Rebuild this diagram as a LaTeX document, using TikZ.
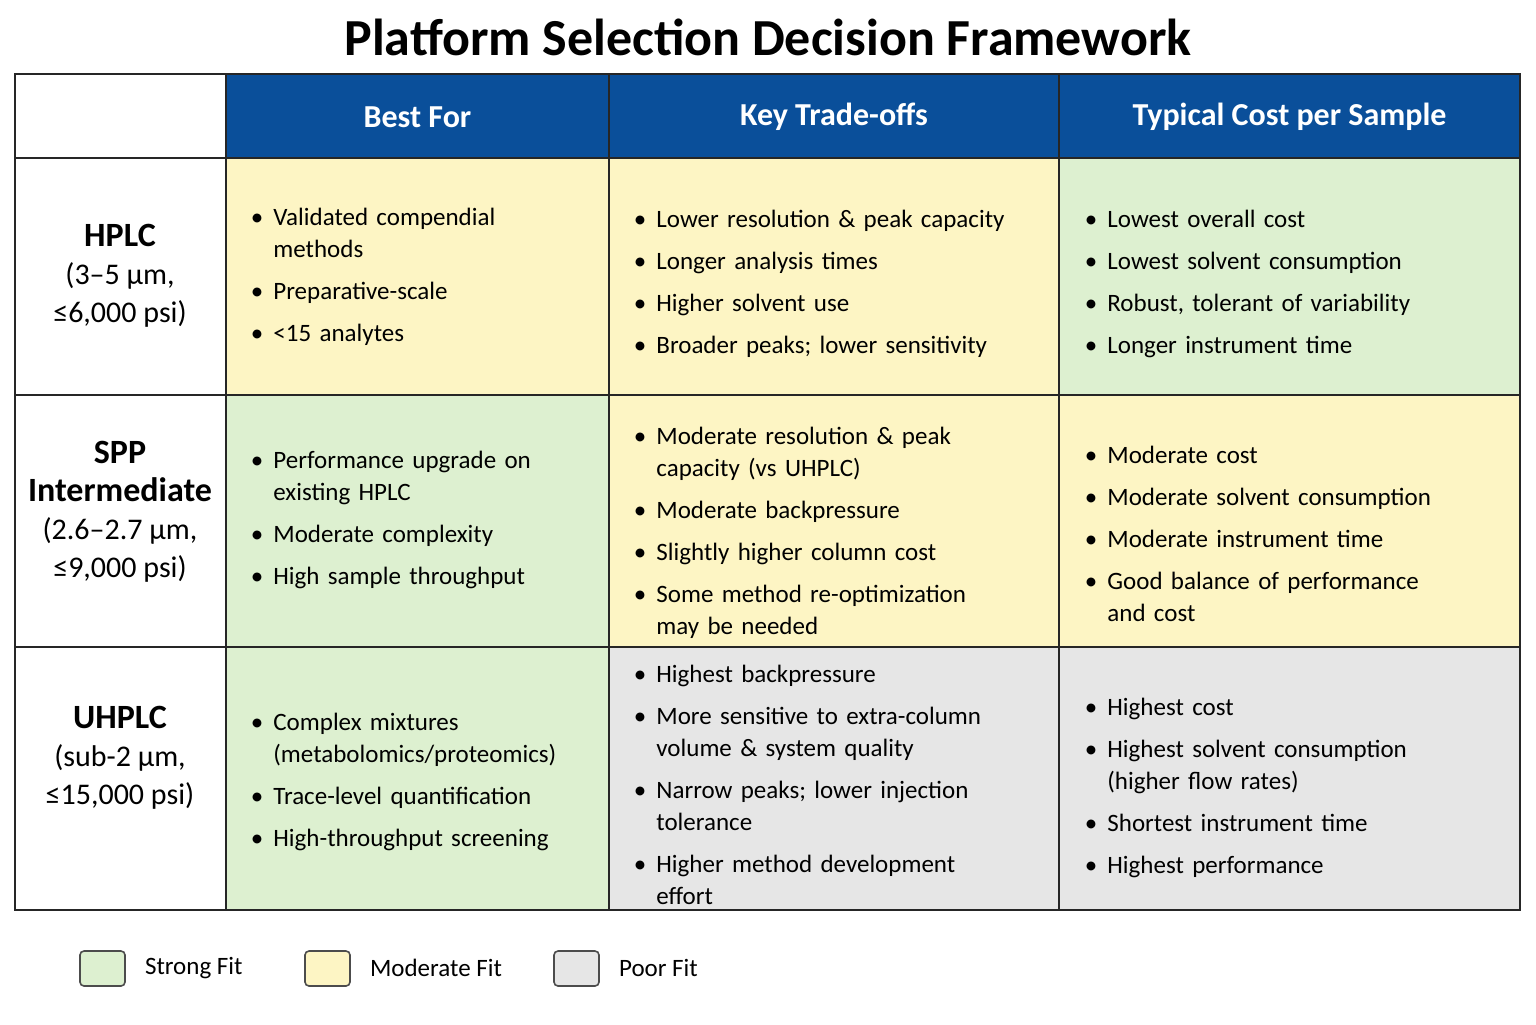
\documentclass[tikz,border=0pt]{standalone}
\usepackage{fontspec}
\setmainfont{Carlito}
\usepackage{enumitem}
\setlist[itemize]{leftmargin=11pt,label=\textbullet,itemsep=5pt,topsep=0pt,parsep=0pt,partopsep=0pt}
\definecolor{hdrblue}{HTML}{0A4F9A}
\definecolor{fitgreen}{HTML}{DDF0D0}
\definecolor{fityellow}{HTML}{FDF5C4}
\definecolor{fitgray}{HTML}{E6E6E6}
\newcommand{\cellist}[1]{\begin{itemize}#1\end{itemize}}
\tikzset{
  cell/.style={draw=black!85,line width=0.9pt},
  hdr/.style={font=\bfseries\fontsize{16}{18}\selectfont,text=white},
  rowlab/.style={align=center,font=\fontsize{15}{19}\selectfont},
  items/.style={anchor=west,text width=#1,inner sep=0pt,font=\fontsize{12.5}{16}\selectfont},
  legbox/.style={draw=black!70,line width=0.8pt,rounded corners=2pt},
  leglab/.style={anchor=west,font=\fontsize{12.5}{15}\selectfont}
}
\begin{document}
\begin{tikzpicture}[x=0.5pt,y=-0.5pt]
\useasboundingbox[fill=white] (0,0) rectangle (1536,1024);
\node[font=\bfseries\fontsize{26}{30}\selectfont] (title) at (768,37) {Platform Selection Decision Framework};
% header
\fill[hdrblue] (226,74) rectangle (1520,158);
\node[hdr] (h1) at (417.5,117) {Best For};
\node[hdr] (h2) at (834,117) {Key Trade-offs};
\node[hdr] (h3) at (1289.5,117) {Typical Cost per Sample};
% cell fills
\fill[fityellow] (226,158) rectangle (609,395);
\fill[fityellow] (609,158) rectangle (1059,395);
\fill[fitgreen] (1059,158) rectangle (1520,395);
\fill[fitgreen] (226,395) rectangle (609,647);
\fill[fityellow] (609,395) rectangle (1059,647);
\fill[fityellow] (1059,395) rectangle (1520,647);
\fill[fitgreen] (226,647) rectangle (609,910);
\fill[fitgray] (609,647) rectangle (1059,910);
\fill[fitgray] (1059,647) rectangle (1520,910);
% grid
\draw[cell] (15,74) rectangle (1520,910);
\foreach \x in {226,609,1059} \draw[cell] (\x,74) -- (\x,910);
\foreach \y in {158,395,647} \draw[cell] (15,\y) -- (1520,\y);
% row labels
\node[rowlab] (r1) at (120,276) {\textbf{\fontsize{17}{21}\selectfont HPLC}\\(3–5 µm,\\≤6,000 psi)};
\node[rowlab] (r2) at (120,512) {\textbf{\fontsize{17}{21}\selectfont SPP}\\\textbf{\fontsize{17}{21}\selectfont Intermediate}\\(2.6–2.7 µm,\\≤9,000 psi)};
\node[rowlab] (r3) at (120,758) {\textbf{\fontsize{17}{21}\selectfont UHPLC}\\(sub-2 µm,\\≤15,000 psi)};
% HPLC row
\node[items=160pt] (c11) at (251,270) {\cellist{\item Validated compendial methods \item Preparative-scale \item <15 analytes}};
\node[items=205pt] (c12) at (634,277) {\cellist{\item Lower resolution \& peak capacity \item Longer analysis times \item Higher solvent use \item Broader peaks; lower sensitivity}};
\node[items=210pt] (c13) at (1085,277) {\cellist{\item Lowest overall cost \item Lowest solvent consumption \item Robust, tolerant of variability \item Longer instrument time}};
% SPP row
\node[items=160pt] (c21) at (251,513) {\cellist{\item Performance upgrade on existing HPLC \item Moderate complexity \item High sample throughput}};
\node[items=172pt] (c22) at (634,526) {\cellist{\item Moderate resolution \& peak capacity (vs UHPLC) \item Moderate backpressure \item Slightly higher column cost \item Some method re-optimization may be needed}};
\node[items=175pt] (c23) at (1085,527) {\cellist{\item Moderate cost \item Moderate solvent consumption \item Moderate instrument time \item Good balance of performance and cost}};
% UHPLC row
\node[items=170pt] (c31) at (251,775) {\cellist{\item Complex mixtures (metabolomics/proteomics) \item Trace-level quantification \item High-throughput screening}};
\node[items=180pt] (c32) at (634,778) {\cellist{\item Highest backpressure \item More sensitive to extra-column volume \& system quality \item Narrow peaks; lower injection tolerance \item Higher method development effort}};
\node[items=175pt] (c33) at (1085,781) {\cellist{\item Highest cost \item Highest solvent consumption (higher flow rates) \item Shortest instrument time \item Highest performance}};
% legend
\draw[legbox,fill=fitgreen] (80,951) rectangle (125,986);
\node[leglab] (l1) at (138,968) {Strong Fit};
\draw[legbox,fill=fityellow] (305,951) rectangle (350,986);
\node[leglab] (l2) at (363,968) {Moderate Fit};
\draw[legbox,fill=fitgray] (554,951) rectangle (599,986);
\node[leglab] (l3) at (612,968) {Poor Fit};
\end{tikzpicture}
\end{document}
